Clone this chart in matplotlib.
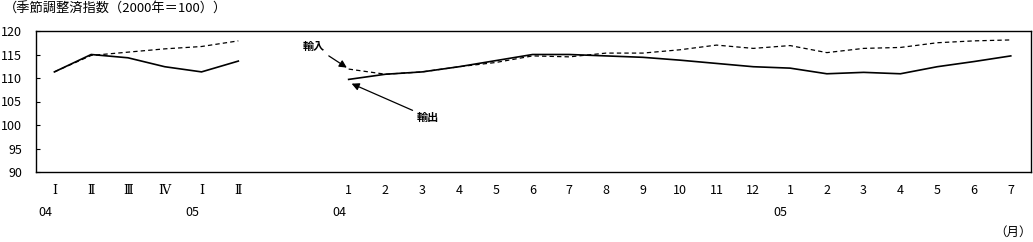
import numpy as np
import matplotlib

matplotlib.use("Agg")
import matplotlib.pyplot as plt
from matplotlib.transforms import blended_transform_factory

plt.rcParams["font.family"] = ["Noto Sans CJK JP", "DejaVu Sans"]

# 四半期（04 I ～ 05 II）
quarter_labels = ["Ⅰ", "Ⅱ", "Ⅲ", "Ⅳ", "Ⅰ", "Ⅱ"]
quarter_export = [111.3, 115.0, 114.3, 112.4, 111.3, 113.6]
quarter_import = [111.3, 114.8, 115.5, 116.2, 116.7, 117.9]

# 月次（04/1 ～ 05/7）
month_labels = ["1", "2", "3", "4", "5", "6", "7", "8", "9", "10", "11", "12",
                "1", "2", "3", "4", "5", "6", "7"]
month_export = [109.7, 110.8, 111.3, 112.4, 113.7, 115.0, 115.0, 114.7, 114.4, 113.8,
                113.1, 112.4, 112.1, 110.9, 111.2, 110.9, 112.4, 113.5, 114.7]
month_import = [111.9, 110.8, 111.3, 112.4, 113.3, 114.7, 114.5, 115.3, 115.3, 116.0,
                117.0, 116.3, 116.9, 115.4, 116.3, 116.5, 117.5, 117.9, 118.1]

GAP = 2  # 四半期と月次の間の空き
year_labels = [("04", 0), ("05", 4), ("04", 0), ("05", 12)]

q_x = np.arange(len(quarter_labels))
m_x = np.arange(len(month_labels)) + len(quarter_labels) + GAP

fig = plt.figure(figsize=(10.33, 2.42), dpi=100)
ax = fig.add_axes([36 / 1033, 1 - 172 / 242, 995 / 1033, 141 / 242])

kw_solid = dict(color="black", lw=1.2, solid_joinstyle="miter")
kw_dash = dict(color="black", lw=0.9, dashes=(3.5, 2.5))
ax.plot(q_x, quarter_import, **kw_dash)
ax.plot(q_x, quarter_export, **kw_solid)
ax.plot(m_x, month_import, **kw_dash)
ax.plot(m_x, month_export, **kw_solid)

ax.set_xlim(-0.5, m_x[-1] + 0.55)
ax.set_ylim(90, 120)
ax.set_yticks(np.arange(90, 121, 5))
ax.tick_params(axis="y", direction="in", length=3, width=0.8, labelsize=9, pad=10)
ax.set_xticks(np.concatenate([q_x, m_x]))
ax.set_xticklabels(quarter_labels + month_labels, fontsize=9)
for lab in ax.get_xticklabels()[:len(quarter_labels)]:
    lab.set_family(["DejaVu Serif", "Noto Sans CJK JP"])
ax.tick_params(axis="x", length=0, pad=9)
for s in ax.spines.values():
    s.set_linewidth(1.0)

tr = blended_transform_factory(ax.transData, ax.transAxes)
for i, (lab, idx) in enumerate(year_labels):
    base = q_x[idx] if i < 2 else m_x[idx]
    ax.text(base - 0.25, -0.285, lab, transform=tr, ha="center", va="center", fontsize=9)

fig.text(4 / 1033, 1 - 9 / 242, "（季節調整済指数（2000年＝100））", ha="left", va="center",
         fontsize=9.5)
fig.text(1013 / 1033, 1 - 232 / 242, "（月）", ha="center", va="center", fontsize=9)

arrow = dict(arrowstyle="-|>", color="black", lw=0.9, mutation_scale=11,
             shrinkA=1, shrinkB=0)
ax.annotate("輸入", xy=(m_x[0] - 0.05, 112.2), xytext=(m_x[0] - 0.95, 116.8),
            ha="center", va="center", fontsize=8, fontweight="bold", arrowprops=arrow)
ax.annotate("輸出", xy=(m_x[0] + 0.08, 108.8), xytext=(m_x[0] + 2.15, 101.7),
            ha="center", va="center", fontsize=8, fontweight="bold", arrowprops=arrow)

fig.savefig("out.png", dpi=100)
